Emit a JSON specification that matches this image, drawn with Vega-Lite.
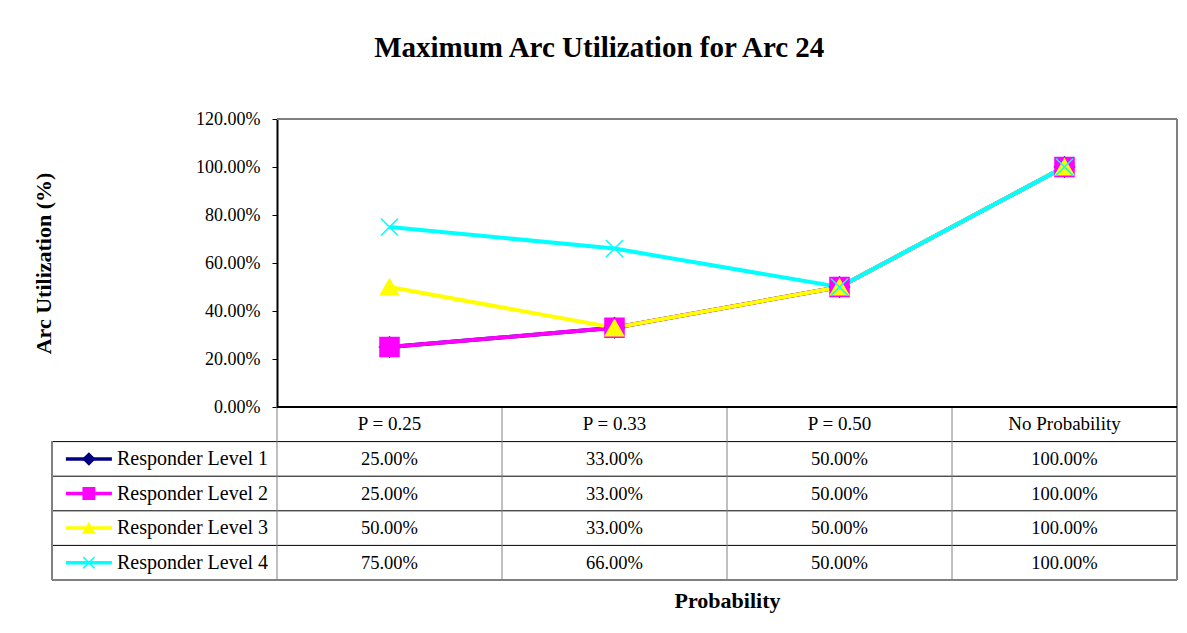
{
  "$schema": "https://vega.github.io/schema/vega-lite/v6.json",
  "background": "white",
  "padding": {"left": 32, "top": 34, "right": 5, "bottom": 5},
  "title": {
    "text": "Maximum Arc Utilization for Arc 24",
    "font": "Liberation Serif",
    "fontSize": 29,
    "fontWeight": "bold",
    "color": "black",
    "anchor": "middle",
    "dx": -6,
    "offset": 47
  },
  "config": {
    "view": {"stroke": null},
    "font": "Liberation Serif"
  },
  "datasets": {
    "util": [
      {"series": "Responder Level 1", "prob": "P = 0.25", "value": 0.25},
      {"series": "Responder Level 1", "prob": "P = 0.33", "value": 0.33},
      {"series": "Responder Level 1", "prob": "P = 0.50", "value": 0.50},
      {"series": "Responder Level 1", "prob": "No Probability", "value": 1.00},
      {"series": "Responder Level 2", "prob": "P = 0.25", "value": 0.25},
      {"series": "Responder Level 2", "prob": "P = 0.33", "value": 0.33},
      {"series": "Responder Level 2", "prob": "P = 0.50", "value": 0.50},
      {"series": "Responder Level 2", "prob": "No Probability", "value": 1.00},
      {"series": "Responder Level 3", "prob": "P = 0.25", "value": 0.50},
      {"series": "Responder Level 3", "prob": "P = 0.33", "value": 0.33},
      {"series": "Responder Level 3", "prob": "P = 0.50", "value": 0.50},
      {"series": "Responder Level 3", "prob": "No Probability", "value": 1.00},
      {"series": "Responder Level 4", "prob": "P = 0.25", "value": 0.75},
      {"series": "Responder Level 4", "prob": "P = 0.33", "value": 0.66},
      {"series": "Responder Level 4", "prob": "P = 0.50", "value": 0.50},
      {"series": "Responder Level 4", "prob": "No Probability", "value": 1.00}
    ]
  },
  "data": {"name": "util"},
  "spacing": 0,
  "bounds": "flush",
  "resolve": {"scale": {"x": "shared"}},
  "vconcat": [
    {
      "width": 1125,
      "height": 288,
      "encoding": {
        "x": {
          "field": "prob",
          "type": "nominal",
          "sort": null,
          "scale": {"type": "band", "domain": [" ", "P = 0.25", "P = 0.33", "P = 0.50", "No Probability"], "paddingInner": 0, "paddingOuter": 0},
          "axis": null
        },
        "y": {
          "field": "value",
          "type": "quantitative",
          "scale": {"domain": [0, 1.2], "nice": false, "zero": true},
          "axis": {
            "values": [0, 0.2, 0.4, 0.6, 0.8, 1.0, 1.2],
            "format": ".2%",
            "offset": -225,
            "grid": false,
            "domainColor": "black",
            "domainWidth": 2,
            "tickColor": "black",
            "tickSize": 5,
            "tickWidth": 1,
            "labelFont": "Liberation Serif",
            "labelFontSize": 18,
            "labelColor": "black",
            "labelPadding": 12,
            "title": "Arc Utilization (%)",
            "titleFont": "Liberation Serif",
            "titleFontSize": 22,
            "titleFontWeight": "bold",
            "titleColor": "black",
            "titlePadding": 140
          }
        }
      },
      "layer": [
        {
          "mark": {"type": "rule", "color": "#808080", "strokeWidth": 1.5},
          "encoding": {
            "x": {"datum": "P = 0.25", "bandPosition": 0},
            "x2": {"datum": "No Probability", "bandPosition": 1},
            "y": {"datum": 1.2}
          }
        },
        {
          "mark": {"type": "rule", "color": "#808080", "strokeWidth": 1.5},
          "encoding": {
            "x": {"datum": "No Probability", "bandPosition": 1},
            "y": {"datum": 0},
            "y2": {"datum": 1.2}
          }
        },
        {
          "mark": {"type": "line", "strokeWidth": 4},
          "encoding": {
            "color": {
              "field": "series",
              "type": "nominal",
              "scale": {
                "domain": ["Responder Level 1", "Responder Level 2", "Responder Level 3", "Responder Level 4"],
                "range": ["#000080", "#FF00FF", "#FFFF00", "#00FFFF"]
              },
              "legend": null
            },
            "detail": {"field": "series"}
          }
        },
        {
          "mark": {"type": "point", "filled": true, "strokeWidth": 1.5, "opacity": 1},
          "encoding": {
            "color": {
              "field": "series",
              "type": "nominal",
              "scale": {
                "domain": ["Responder Level 1", "Responder Level 2", "Responder Level 3", "Responder Level 4"],
                "range": ["#000080", "#FF00FF", "#FFFF00", "#00FFFF"]
              },
              "legend": null
            },
            "stroke": {
              "field": "series",
              "type": "nominal",
              "scale": {
                "domain": ["Responder Level 1", "Responder Level 2", "Responder Level 3", "Responder Level 4"],
                "range": ["#000080", "#FF00FF", "#FFFF00", "#00FFFF"]
              },
              "legend": null
            },
            "shape": {
              "field": "series",
              "type": "nominal",
              "scale": {
                "domain": ["Responder Level 1", "Responder Level 2", "Responder Level 3", "Responder Level 4"],
                "range": ["diamond", "square", "triangle-up", "M-1,-1L1,1M-1,1L1,-1"]
              },
              "legend": null
            },
            "size": {
              "field": "series",
              "type": "ordinal",
              "scale": {
                "domain": ["Responder Level 1", "Responder Level 2", "Responder Level 3", "Responder Level 4"],
                "range": [400, 290, 340, 400]
              },
              "legend": null
            }
          }
        }
      ]
    },
    {
      "width": 1125,
      "height": 173,
      "encoding": {
        "x": {
          "field": "prob",
          "type": "nominal",
          "sort": null,
          "scale": {"type": "band", "domain": [" ", "P = 0.25", "P = 0.33", "P = 0.50", "No Probability"], "paddingInner": 0, "paddingOuter": 0},
          "axis": {
            "labels": false,
            "ticks": false,
            "domain": false,
            "grid": false,
            "title": "Probability",
            "titleFont": "Liberation Serif",
            "titleFontSize": 22,
            "titleFontWeight": "bold",
            "titleColor": "black",
            "titleX": 675,
            "titlePadding": 10
          }
        },
        "y": {
          "field": "series",
          "type": "nominal",
          "scale": {"type": "band", "domain": ["header", "Responder Level 1", "Responder Level 2", "Responder Level 3", "Responder Level 4"], "paddingInner": 0, "paddingOuter": 0},
          "axis": null
        }
      },
      "layer": [
        {
          "transform": [{"filter": "datum.prob === 'P = 0.25'"}],
          "mark": {"type": "rule", "color": "black", "strokeWidth": 1},
          "encoding": {
            "x": {"datum": " ", "bandPosition": 0},
            "x2": {"datum": "No Probability", "bandPosition": 1},
            "y": {"field": "series", "type": "nominal", "bandPosition": 0}
          }
        },
        {
          "mark": {"type": "rule", "color": "#808080", "strokeWidth": 1.5},
          "encoding": {
            "x": {"datum": " ", "bandPosition": 0},
            "x2": {"datum": "No Probability", "bandPosition": 1},
            "y": {"datum": "Responder Level 4", "bandPosition": 1}
          }
        },
        {
          "transform": [{"filter": "datum.series === 'Responder Level 1'"}],
          "mark": {"type": "rule", "color": "#808080", "strokeWidth": 1},
          "encoding": {
            "x": {"field": "prob", "type": "nominal", "bandPosition": 0},
            "y": {"datum": "header", "bandPosition": 0},
            "y2": {"datum": "Responder Level 4", "bandPosition": 1}
          }
        },
        {
          "mark": {"type": "rule", "color": "#808080", "strokeWidth": 1.5},
          "encoding": {
            "x": {"datum": "No Probability", "bandPosition": 1},
            "y": {"datum": "header", "bandPosition": 0},
            "y2": {"datum": "Responder Level 4", "bandPosition": 1}
          }
        },
        {
          "mark": {"type": "rule", "color": "#808080", "strokeWidth": 1.5},
          "encoding": {
            "x": {"datum": " ", "bandPosition": 0},
            "y": {"datum": "Responder Level 1", "bandPosition": 0},
            "y2": {"datum": "Responder Level 4", "bandPosition": 1}
          }
        },
        {
          "mark": {"type": "rule", "color": "black", "strokeWidth": 2},
          "encoding": {
            "x": {"datum": "P = 0.25", "bandPosition": 0},
            "x2": {"datum": "No Probability", "bandPosition": 1},
            "y": {"datum": "header", "bandPosition": 0}
          }
        },
        {
          "transform": [{"filter": "datum.series === 'Responder Level 1'"}],
          "mark": {"type": "text", "fontSize": 19, "color": "black", "font": "Liberation Serif"},
          "encoding": {
            "y": {"datum": "header"},
            "text": {"field": "prob"}
          }
        },
        {
          "mark": {"type": "text", "fontSize": 18.5, "color": "black", "font": "Liberation Serif"},
          "encoding": {
            "text": {"field": "value", "type": "quantitative", "format": ".2%"}
          }
        },
        {
          "transform": [{"filter": "datum.prob === 'P = 0.25'"}],
          "mark": {"type": "text", "fontSize": 20, "color": "black", "font": "Liberation Serif", "align": "left", "dx": 65},
          "encoding": {
            "x": {"datum": " ", "bandPosition": 0},
            "text": {"field": "series"}
          }
        },
        {
          "transform": [{"filter": "datum.prob === 'P = 0.25'"}],
          "mark": {"type": "point", "shape": "stroke", "size": 2116, "strokeWidth": 3.5, "filled": false, "opacity": 1},
          "encoding": {
            "x": {"datum": " ", "bandPosition": 0.164},
            "stroke": {
              "field": "series",
              "type": "nominal",
              "scale": {
                "domain": ["Responder Level 1", "Responder Level 2", "Responder Level 3", "Responder Level 4"],
                "range": ["#000080", "#FF00FF", "#FFFF00", "#00FFFF"]
              },
              "legend": null
            }
          }
        },
        {
          "transform": [{"filter": "datum.prob === 'P = 0.25'"}],
          "mark": {"type": "point", "filled": true, "size": 130, "strokeWidth": 1.5, "opacity": 1},
          "encoding": {
            "x": {"datum": " ", "bandPosition": 0.164},
            "color": {
              "field": "series",
              "type": "nominal",
              "scale": {
                "domain": ["Responder Level 1", "Responder Level 2", "Responder Level 3", "Responder Level 4"],
                "range": ["#000080", "#FF00FF", "#FFFF00", "#00FFFF"]
              },
              "legend": null
            },
            "stroke": {
              "field": "series",
              "type": "nominal",
              "scale": {
                "domain": ["Responder Level 1", "Responder Level 2", "Responder Level 3", "Responder Level 4"],
                "range": ["#000080", "#FF00FF", "#FFFF00", "#00FFFF"]
              },
              "legend": null
            },
            "shape": {
              "field": "series",
              "type": "nominal",
              "scale": {
                "domain": ["Responder Level 1", "Responder Level 2", "Responder Level 3", "Responder Level 4"],
                "range": ["diamond", "square", "triangle-up", "M-1,-1L1,1M-1,1L1,-1"]
              },
              "legend": null
            }
          }
        }
      ]
    }
  ]
}
